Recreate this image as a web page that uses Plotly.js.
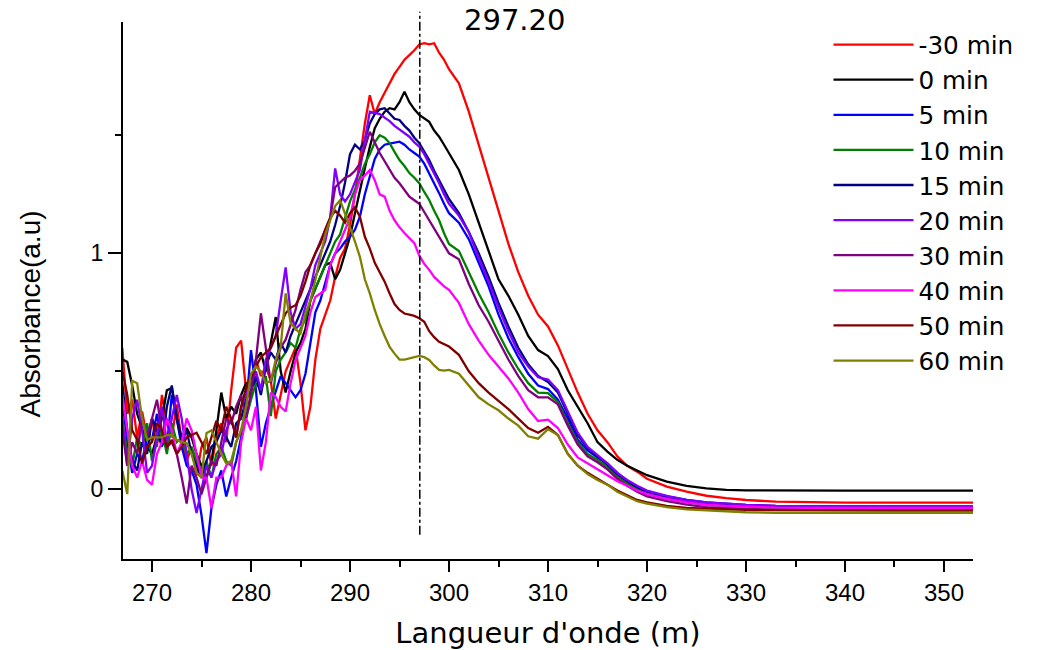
<!DOCTYPE html>
<html>
<head>
<meta charset="utf-8">
<script src="https://cdn.plot.ly/plotly-3.0.1.min.js"></script>
<style>html,body{margin:0;padding:0;background:#fff;}#chart{width:1043px;height:650px;}</style>
</head>
<body>
<div id="chart"></div>
<script>
// Wavelength grid (nm)
var wavelength = [
 267.0,267.5,268.0,268.5,269.0,269.5,270.0,270.5,271.0,271.5,
 272.0,272.5,273.0,273.5,274.0,274.5,275.0,275.5,276.0,276.5,
 277.0,277.5,278.0,278.5,279.0,279.5,280.0,280.5,281.0,281.5,
 282.0,282.5,283.0,283.5,284.0,284.5,285.0,285.5,286.0,286.5,
 287.0,287.5,288.0,288.5,289.0,289.5,290.0,290.5,291.0,291.5,
 292.0,292.5,293.0,293.5,294.0,294.5,295.0,295.5,296.0,296.5,
 297.0,297.5,298.0,298.5,299.0,299.5,300.0,
 301,302,303,304,305,306,307,308,309,310,
 311,312,313,314,315,316,317,318,319,320,
 322,324,326,328,330,333,336,340,345,350,353
];

var seriesNames = ['-30 min','0 min','5 min','10 min','15 min','20 min','30 min','40 min','50 min','60 min'];
var seriesColors = ['#ff0000','#000000','#0000ff','#008000','#000080','#8000ff','#800080','#ff00ff','#800000','#808000'];

var absM30 = [
 0.60,0.32,0.38,0.22,0.33,0.22,0.30,0.18,0.40,0.28,
 0.22,0.36,0.20,0.12,0.18,0.06,0.18,0.22,0.10,0.22,
 0.28,0.20,0.42,0.60,0.63,0.42,0.40,0.55,0.48,0.52,
 0.46,0.30,0.40,0.50,0.55,0.60,0.45,0.25,0.35,0.55,
 0.68,0.74,0.80,0.90,0.98,1.02,1.12,1.25,1.40,1.55,
 1.67,1.59,1.64,1.68,1.72,1.76,1.79,1.82,1.84,1.86,
 1.885,1.89,1.885,1.89,1.85,1.82,1.78,
 1.72,1.60,1.46,1.32,1.18,1.04,0.92,0.82,0.74,0.69,
 0.61,0.51,0.41,0.32,0.25,0.20,0.14,0.10,0.075,0.045,
 0.012,-0.01,-0.027,-0.037,-0.045,-0.052,-0.055,-0.056,-0.056,-0.056,-0.056
];
var abs0 = [
 0.55,0.54,0.44,0.32,0.26,0.18,0.15,0.22,0.30,0.42,
 0.43,0.30,0.22,0.26,0.22,0.15,0.10,0.05,0.12,0.25,
 0.41,0.30,0.35,0.32,0.40,0.45,0.45,0.55,0.58,0.50,
 0.62,0.73,0.50,0.41,0.50,0.58,0.62,0.68,0.80,0.85,
 0.90,0.95,0.96,0.89,0.93,1.00,1.07,1.17,1.27,1.36,
 1.45,1.53,1.57,1.60,1.615,1.61,1.64,1.685,1.64,1.61,
 1.586,1.57,1.557,1.52,1.494,1.46,1.425,
 1.353,1.25,1.13,1.01,0.89,0.82,0.74,0.65,0.59,0.565,
 0.51,0.42,0.35,0.28,0.20,0.16,0.125,0.10,0.08,0.06,
 0.033,0.015,0.004,-0.002,-0.004,-0.005,-0.005,-0.005,-0.005,-0.005,-0.005
];
var abs5 = [
 0.38,0.20,0.07,0.15,0.12,0.22,0.21,0.32,0.20,0.18,
 0.40,0.30,0.18,0.10,0.08,0.02,-0.11,-0.27,-0.08,0.02,
 0.08,-0.03,0.05,0.12,0.22,0.35,0.59,0.42,0.18,0.28,
 0.35,0.42,0.48,0.45,0.42,0.39,0.42,0.49,0.62,0.75,
 0.80,0.88,0.95,1.00,1.02,1.05,1.07,1.10,1.155,1.25,
 1.32,1.40,1.44,1.46,1.465,1.47,1.473,1.46,1.44,1.425,
 1.41,1.38,1.34,1.30,1.255,1.21,1.17,
 1.13,1.06,0.96,0.86,0.74,0.64,0.56,0.49,0.44,0.425,
 0.38,0.30,0.21,0.165,0.135,0.11,0.07,0.035,0.005,-0.01,
 -0.037,-0.05,-0.06,-0.066,-0.07,-0.073,-0.075,-0.075,-0.075,-0.075,-0.075
];
var abs10 = [
 0.30,0.15,0.10,0.22,0.18,0.28,0.12,0.20,0.25,0.15,
 0.28,0.20,0.22,0.15,0.18,0.12,0.08,0.12,0.05,0.15,
 0.18,0.12,0.10,0.20,0.25,0.30,0.38,0.45,0.42,0.48,
 0.31,0.50,0.55,0.58,0.62,0.60,0.68,0.72,0.80,0.85,
 0.90,0.95,1.00,1.05,1.08,1.15,1.22,1.27,1.32,1.38,
 1.42,1.47,1.50,1.49,1.467,1.43,1.395,1.37,1.34,1.32,
 1.297,1.26,1.226,1.18,1.14,1.085,1.04,
 1.01,0.92,0.83,0.75,0.66,0.58,0.51,0.45,0.41,0.408,
 0.37,0.28,0.20,0.15,0.125,0.095,0.055,0.025,0.0,-0.02,
 -0.04,-0.055,-0.065,-0.07,-0.074,-0.077,-0.078,-0.078,-0.078,-0.078,-0.078
];
var abs15 = [
 0.45,0.25,0.12,0.08,0.20,0.15,0.30,0.25,0.18,0.35,
 0.44,0.30,0.20,0.25,0.15,0.10,0.05,0.12,0.18,0.20,
 0.25,0.22,0.18,0.28,0.30,0.38,0.42,0.48,0.40,0.52,
 0.58,0.55,0.62,0.58,0.65,0.70,0.75,0.80,0.85,0.90,
 0.95,1.00,1.05,1.12,1.20,1.30,1.42,1.46,1.44,1.48,
 1.55,1.59,1.61,1.615,1.594,1.57,1.565,1.54,1.52,1.49,
 1.467,1.43,1.395,1.35,1.31,1.27,1.23,
 1.17,1.09,1.00,0.90,0.79,0.69,0.60,0.53,0.48,0.455,
 0.41,0.32,0.23,0.175,0.14,0.105,0.065,0.035,0.01,-0.01,
 -0.03,-0.045,-0.055,-0.062,-0.066,-0.07,-0.072,-0.072,-0.072,-0.072,-0.072
];
var abs20 = [
 0.30,0.10,0.30,0.38,0.25,0.07,0.10,0.22,0.35,0.20,
 0.30,0.40,0.30,0.15,0.00,-0.10,0.00,0.10,0.05,0.12,
 0.15,0.25,0.30,0.22,0.35,0.40,0.45,0.50,0.42,0.55,
 0.60,0.65,0.80,0.94,0.75,0.68,0.70,0.78,0.85,0.95,
 1.00,1.05,1.15,1.36,1.25,1.22,1.25,1.30,1.353,1.48,
 1.60,1.595,1.59,1.575,1.56,1.54,1.525,1.51,1.494,1.47,
 1.452,1.42,1.38,1.34,1.297,1.25,1.21,
 1.16,1.09,0.98,0.88,0.77,0.67,0.58,0.52,0.475,0.465,
 0.42,0.33,0.24,0.18,0.145,0.11,0.07,0.04,0.015,-0.005,
 -0.028,-0.045,-0.055,-0.062,-0.066,-0.07,-0.072,-0.072,-0.072,-0.072,-0.072
];
var abs30 = [
 0.25,0.10,0.20,0.15,0.30,0.22,0.30,0.38,0.25,0.18,
 0.20,0.15,0.05,-0.06,0.10,0.05,-0.02,0.05,0.12,0.10,
 0.20,0.30,0.28,0.35,0.40,0.30,0.41,0.55,0.746,0.60,
 0.45,0.534,0.60,0.634,0.70,0.76,0.845,0.92,0.95,1.00,
 1.05,1.10,1.15,1.28,1.30,1.32,1.33,1.35,1.38,1.45,
 1.515,1.47,1.425,1.39,1.353,1.32,1.297,1.27,1.24,1.225,
 1.21,1.175,1.14,1.105,1.07,1.03,1.00,
 0.975,0.87,0.78,0.71,0.63,0.55,0.48,0.42,0.39,0.39,
 0.36,0.27,0.19,0.14,0.115,0.085,0.045,0.015,-0.01,-0.03,
 -0.05,-0.065,-0.075,-0.08,-0.083,-0.086,-0.087,-0.087,-0.087,-0.087,-0.087
];
var abs40 = [
 0.40,0.25,0.10,0.05,0.12,0.04,0.02,0.15,0.20,0.30,
 0.25,0.15,0.20,0.30,0.25,0.15,0.05,0.05,-0.08,0.05,
 0.05,0.10,0.12,-0.03,0.20,0.30,0.25,0.35,0.08,0.20,
 0.41,0.39,0.35,0.33,0.45,0.548,0.60,0.65,0.75,0.815,
 0.83,0.845,0.95,1.00,1.056,1.10,1.15,1.25,1.31,1.33,
 1.353,1.31,1.25,1.24,1.18,1.14,1.11,1.086,1.065,1.043,
 0.99,0.955,0.93,0.90,0.88,0.86,0.845,
 0.79,0.70,0.63,0.57,0.52,0.47,0.41,0.34,0.29,0.295,
 0.26,0.19,0.135,0.11,0.085,0.06,0.035,0.015,-0.005,-0.02,
 -0.04,-0.055,-0.065,-0.07,-0.074,-0.077,-0.078,-0.078,-0.078,-0.078,-0.078
];
var abs50 = [
 0.50,0.40,0.25,0.21,0.11,0.18,0.20,0.28,0.25,0.18,
 0.21,0.15,0.18,0.22,0.23,0.24,0.20,0.15,0.22,0.29,
 0.25,0.35,0.30,0.22,0.35,0.43,0.48,0.52,0.56,0.58,
 0.60,0.65,0.70,0.746,0.77,0.78,0.82,0.88,0.95,1.00,
 1.04,1.10,1.15,1.18,1.16,1.13,1.17,1.195,1.155,1.07,
 1.02,0.96,0.92,0.88,0.83,0.785,0.76,0.745,0.74,0.735,
 0.725,0.71,0.67,0.645,0.625,0.615,0.605,
 0.57,0.50,0.45,0.41,0.375,0.34,0.30,0.26,0.24,0.265,
 0.23,0.15,0.10,0.07,0.045,0.02,-0.005,-0.025,-0.045,-0.055,
 -0.07,-0.078,-0.083,-0.085,-0.087,-0.088,-0.09,-0.09,-0.09,-0.09,-0.09
];
var abs60 = [
 0.08,-0.02,0.46,0.45,0.30,0.21,0.22,0.22,0.22,0.23,
 0.23,0.21,0.20,0.196,0.15,0.07,0.05,0.238,0.25,0.20,
 0.15,0.11,0.12,0.20,0.25,0.35,0.49,0.52,0.50,0.45,
 0.46,0.55,0.604,0.83,0.705,0.68,0.66,0.746,0.80,0.887,
 0.98,1.08,1.14,1.20,1.225,1.17,1.11,1.05,0.985,0.89,
 0.83,0.76,0.70,0.65,0.604,0.575,0.55,0.55,0.556,0.562,
 0.565,0.56,0.548,0.525,0.506,0.503,0.506,
 0.49,0.44,0.39,0.36,0.335,0.30,0.27,0.225,0.215,0.255,
 0.23,0.15,0.10,0.065,0.04,0.02,-0.01,-0.03,-0.05,-0.06,
 -0.075,-0.085,-0.09,-0.094,-0.097,-0.1,-0.1,-0.1,-0.1,-0.1,-0.1
];

var seriesValues = [absM30, abs0, abs5, abs10, abs15, abs20, abs30, abs40, abs50, abs60];

var peakWavelength = 297.05;
var peakLabel = '297.20';
var xTickValues = [270,280,290,300,310,320,330,340,350];
var yTickValues = [0,1];
var yTickLabels = ['0','1'];

var traces = seriesValues.map(function(v, i){
  return {
    type: 'scatter', mode: 'lines', name: seriesNames[i],
    x: wavelength, y: v,
    line: {color: seriesColors[i], width: 2.3}
  };
});

var xTickFont = {family: 'Liberation Sans Narrow, Liberation Sans, Arial', size: 24, color: '#000'};
var yTickFont = {family: 'Liberation Sans, Arial', size: 23, color: '#000'};

var layout = {
  width: 1043, height: 650,
  margin: {l: 123, r: 70, t: 22, b: 91, pad: 0},
  paper_bgcolor: '#fff', plot_bgcolor: '#fff',
  showlegend: true,
  legend: {
    x: 0.83, y: 1.0, xanchor: 'left', yanchor: 'top',
    font: {family: 'DejaVu Sans, Liberation Sans, Arial', size: 24.7, color: '#000'},
    bgcolor: 'rgba(0,0,0,0)', borderwidth: 0,
    itemwidth: 80, tracegroupgap: 0
  },
  xaxis: {
    range: [267.07, 352.93],
    showline: true, linecolor: '#000', linewidth: 2,
    showgrid: false, zeroline: false,
    ticks: 'outside', ticklen: 11, tickwidth: 2, tickcolor: '#000',
    tickvals: xTickValues,
    minor: {dtick: 5, tick0: 265, ticks: 'outside', ticklen: 6, tickwidth: 2, tickcolor: '#000', showgrid: false},
    tickfont: xTickFont,
    title: {text: "Langueur d'onde (m)", font: {family: 'DejaVu Sans, Liberation Sans, Arial', size: 29, color: '#000'}, standoff: 28},
    automargin: false
  },
  yaxis: {
    range: [-0.295, 1.98],
    showline: true, linecolor: '#000', linewidth: 2,
    showgrid: false, zeroline: false,
    ticks: 'outside', ticklen: 13, tickwidth: 2, tickcolor: '#000',
    tickvals: yTickValues, ticktext: yTickLabels,
    minor: {dtick: 0.5, tick0: 0, ticks: 'outside', ticklen: 6, tickwidth: 2, tickcolor: '#000', showgrid: false},
    tickfont: yTickFont,
    automargin: false
  },
  shapes: [{
    type: 'line', xref: 'x', yref: 'paper',
    x0: peakWavelength, x1: peakWavelength, y0: 0.045, y1: 1.019,
    line: {color: '#000', width: 1.5, dash: 'dashdot'}
  }],
  annotations: [{
    xref: 'paper', yref: 'paper', x: 0.461, y: 1.004,
    text: peakLabel, showarrow: false,
    xanchor: 'center', yanchor: 'middle',
    font: {family: 'DejaVu Sans, Liberation Sans, Arial', size: 29, color: '#000'}
  }, {
    xref: 'paper', yref: 'paper', x: -0.109, y: 0.456,
    text: 'Absorbance(a.u)', showarrow: false, textangle: -90,
    xanchor: 'center', yanchor: 'middle',
    font: {family: 'Liberation Sans Narrow, Liberation Sans, Arial', size: 28, color: '#000'}
  }]
};

Plotly.newPlot('chart', traces, layout, {staticPlot: true, displayModeBar: false});
</script>
</body>
</html>
